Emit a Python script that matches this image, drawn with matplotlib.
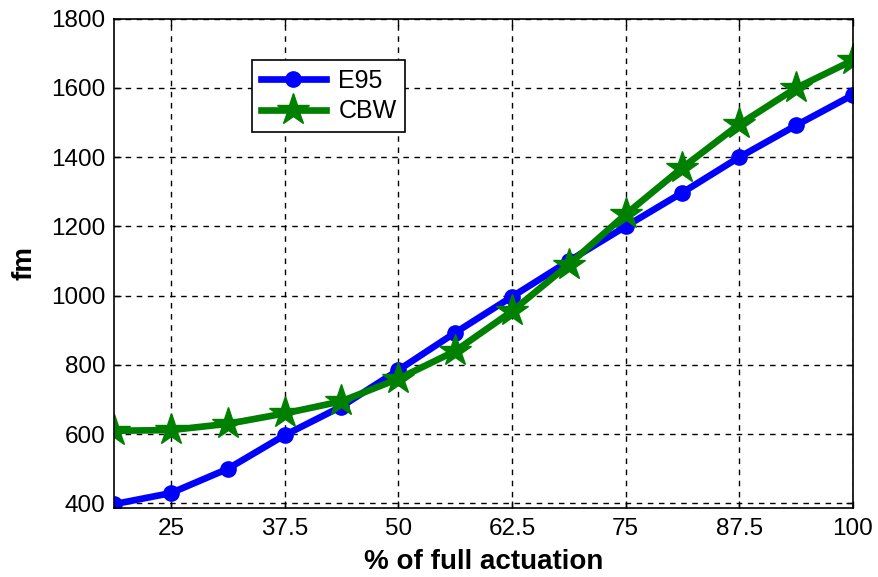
import numpy as np
import matplotlib
matplotlib.use("Agg")
import matplotlib.pyplot as plt

plt.rcParams['font.family'] = ['Liberation Sans', 'DejaVu Sans']

# % of full actuation
actuation = [18.75, 25, 31.25, 37.5, 43.75, 50, 56.25, 62.5, 68.75, 75, 81.25, 87.5, 93.75, 100]
e95 = [398, 430, 500, 597, 680, 785, 893, 997, 1100, 1200, 1298, 1400, 1492, 1580]
cbw = [610, 612, 630, 660, 695, 760, 840, 955, 1090, 1235, 1370, 1495, 1600, 1680]

xticks = [25, 37.5, 50, 62.5, 75, 87.5, 100]
xticklabels = ["25", "37.5", "50", "62.5", "75", "87.5", "100"]
yticks = [400, 600, 800, 1000, 1200, 1400, 1600, 1800]

fig = plt.figure(figsize=(8.79, 5.77), dpi=100)
ax = fig.add_axes([0.1297, 0.1196, 0.8407, 0.848])

ax.plot(actuation, e95, color='blue', lw=4.8, marker='o', ms=11, label='E95')
ax.plot(actuation, cbw, color='green', lw=4.8, marker='*', ms=24, label='CBW')

ax.set_xlim(18.75, 100)
ax.set_ylim(387, 1800)
ax.set_xticks(xticks)
ax.set_xticklabels(xticklabels)
ax.set_yticks(yticks)
ax.tick_params(labelsize=17.5, direction='in', length=5, width=1, pad=6,
               top=True, right=True)
ax.tick_params(axis='x', pad=7)
ax.grid(True, color='black', linestyle=(0, (4, 4)), lw=1)
for s in ax.spines.values():
    s.set_linewidth(1.2)

ax.set_xlabel("% of full actuation", fontsize=20, fontweight='bold', labelpad=7)
ax.set_ylabel("fm", fontsize=20, fontweight='bold', labelpad=10)

leg = ax.legend(loc='upper left', bbox_to_anchor=(0.187, 0.915), fontsize=18,
                fancybox=False, edgecolor='black', framealpha=1, numpoints=1,
                handlelength=2.6, borderpad=0.35, labelspacing=0.25,
                borderaxespad=0, handletextpad=0.5)
leg.get_frame().set_linewidth(1.2)

plt.savefig("out.png", dpi=100)
